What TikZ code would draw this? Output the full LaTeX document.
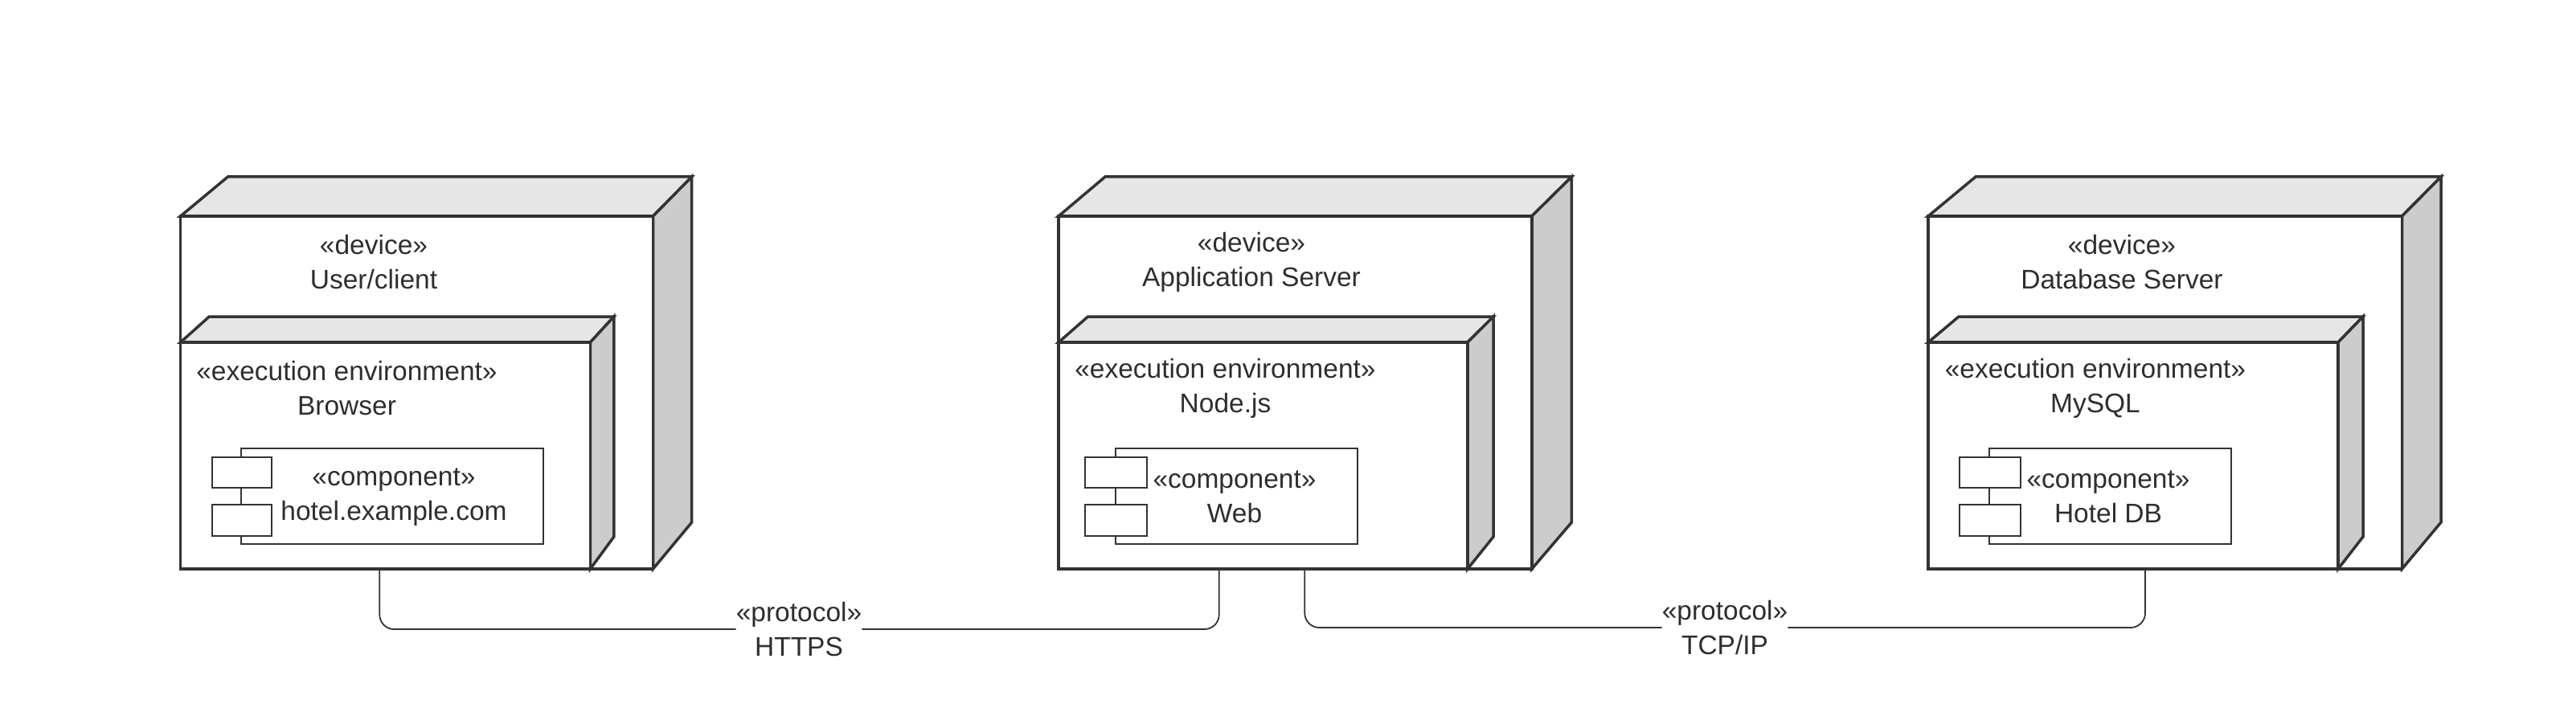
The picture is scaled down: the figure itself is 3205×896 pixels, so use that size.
\documentclass[tikz,border=0pt]{standalone}
\usepackage{fontspec}
\setmainfont{Liberation Sans}
\usetikzlibrary{calc}
\definecolor{ink}{HTML}{333333}
\definecolor{topc}{HTML}{E6E6E6}
\definecolor{sidec}{HTML}{CCCCCC}
\begin{document}
\begin{tikzpicture}[x=1pt,y=-1pt,
  font=\fontsize{33.5}{43}\selectfont,
  face/.style={draw=ink,line width=3.5pt,line join=miter},
  topface/.style={face,fill=topc},
  sideface/.style={face,fill=sidec},
  frontbox/.style={draw=ink,fill=white,line width=3.5pt,rectangle,inner sep=0pt,outer sep=0pt,anchor=north west},
  compbox/.style={draw=ink,fill=white,line width=2pt},
  lbl/.style={align=center,inner sep=0pt,text=ink!90!black},
  conn/.style={draw=ink,line width=1.8pt,rounded corners=18pt}]
\useasboundingbox (0,0) rectangle (3205,896);
\fill[white] (0,0) rectangle (3205,896);

% ---------- Device 1 ----------
\draw[topface] (224.6,269) -- (283.5,220) -- (860.7,220) -- (812.5,269) -- cycle;
\draw[sideface] (812.5,269) -- (860.7,220) -- (860.7,650) -- (812.5,708) -- cycle;
\node[frontbox,minimum width=587.9pt,minimum height=439pt] (d1) at (224.6,269) {};
\node[lbl] (d1t) at (465,326.5) {«device»\\User/client};
% exec env 1
\draw[topface] (224.6,426) -- (260.3,394) -- (763.8,394) -- (734.4,426) -- cycle;
\draw[sideface] (734.4,426) -- (763.8,394) -- (763.8,668) -- (734.4,708) -- cycle;
\node[frontbox,minimum width=509.8pt,minimum height=282pt] (e1) at (224.6,426) {};
\node[lbl] (e1t) at (431.5,483.5) {«execution environment»\\Browser};
% component 1
\node[compbox,anchor=north west,inner sep=0pt,minimum width=375.6pt,minimum height=119pt] (k1) at (299,557) {};
\node[compbox,anchor=north west,inner sep=0pt,minimum width=74.5pt,minimum height=38pt] (k1a) at (262.5,568) {};
\node[compbox,anchor=north west,inner sep=0pt,minimum width=74.5pt,minimum height=39pt] (k1b) at (262.5,627) {};
\node[lbl] (k1t) at (490,618.5) {«component»\\hotel.example.com};

% ---------- Device 2 ----------
\draw[topface] (1317,269) -- (1375,220) -- (1955.4,220) -- (1905.8,269) -- cycle;
\draw[sideface] (1905.8,269) -- (1955.4,220) -- (1955.4,650) -- (1905.8,708) -- cycle;
\node[frontbox,minimum width=588.8pt,minimum height=439pt] (d2) at (1317,269) {};
\node[lbl] (d2t) at (1557,326.5) {«device»\\Application Server};
% exec env 2
\draw[topface] (1317,426) -- (1353.6,394) -- (1858,394) -- (1825.9,426) -- cycle;
\draw[sideface] (1825.9,426) -- (1858,394) -- (1858,668) -- (1825.9,708) -- cycle;
\node[frontbox,minimum width=508.9pt,minimum height=282pt] (e2) at (1317,426) {};
\node[lbl] (e2t) at (1524.5,483.5) {«execution environment»\\Node.js};
% component 2
\node[compbox,anchor=north west,inner sep=0pt,minimum width=300.5pt,minimum height=119pt] (k2) at (1387,557) {};
\node[compbox,anchor=north west,inner sep=0pt,minimum width=77pt,minimum height=38pt] (k2a) at (1349,568) {};
\node[compbox,anchor=north west,inner sep=0pt,minimum width=77pt,minimum height=39pt] (k2b) at (1349,627) {};
\node[lbl] (k2t) at (1536,618.5) {«component»\\Web};

% ---------- Device 3 ----------
\draw[topface] (2399,269) -- (2458,220) -- (3037,220) -- (2988.5,269) -- cycle;
\draw[sideface] (2988.5,269) -- (3037,220) -- (3037,650) -- (2988.5,708) -- cycle;
\node[frontbox,minimum width=589.5pt,minimum height=439pt] (d3) at (2399,269) {};
\node[lbl] (d3t) at (2640,326.5) {«device»\\Database Server};
% exec env 3
\draw[topface] (2399,426) -- (2437,394) -- (2940,394) -- (2909,426) -- cycle;
\draw[sideface] (2909,426) -- (2940,394) -- (2940,668) -- (2909,708) -- cycle;
\node[frontbox,minimum width=510pt,minimum height=282pt] (e3) at (2399,426) {};
\node[lbl] (e3t) at (2607,483.5) {«execution environment»\\MySQL};
% component 3
\node[compbox,anchor=north west,inner sep=0pt,minimum width=301pt,minimum height=119pt] (k3) at (2474,557) {};
\node[compbox,anchor=north west,inner sep=0pt,minimum width=75.6pt,minimum height=38pt] (k3a) at (2437,568) {};
\node[compbox,anchor=north west,inner sep=0pt,minimum width=75.6pt,minimum height=39pt] (k3b) at (2437,627) {};
\node[lbl] (k3t) at (2623,618.5) {«component»\\Hotel DB};

% ---------- Connectors ----------
\coordinate (c1) at ($(d1.south west)+(247.7,0)$);
\coordinate (c2) at ($(d2.south west)+(199.7,0)$);
\coordinate (c3) at ($(d2.south west)+(306.3,0)$);
\coordinate (c4) at ($(d3.south west)+(270,0)$);
\node[lbl] (p1) at (994,783) {«protocol»\\HTTPS};
\node[lbl] (p2) at (2146,781) {«protocol»\\TCP/IP};
\draw[conn] (c1) |- (p1.west);
\draw[conn] (p1.east) -| (c2);
\draw[conn] (c3) |- (p2.west);
\draw[conn] (p2.east) -| (c4);
\end{tikzpicture}
\end{document}
